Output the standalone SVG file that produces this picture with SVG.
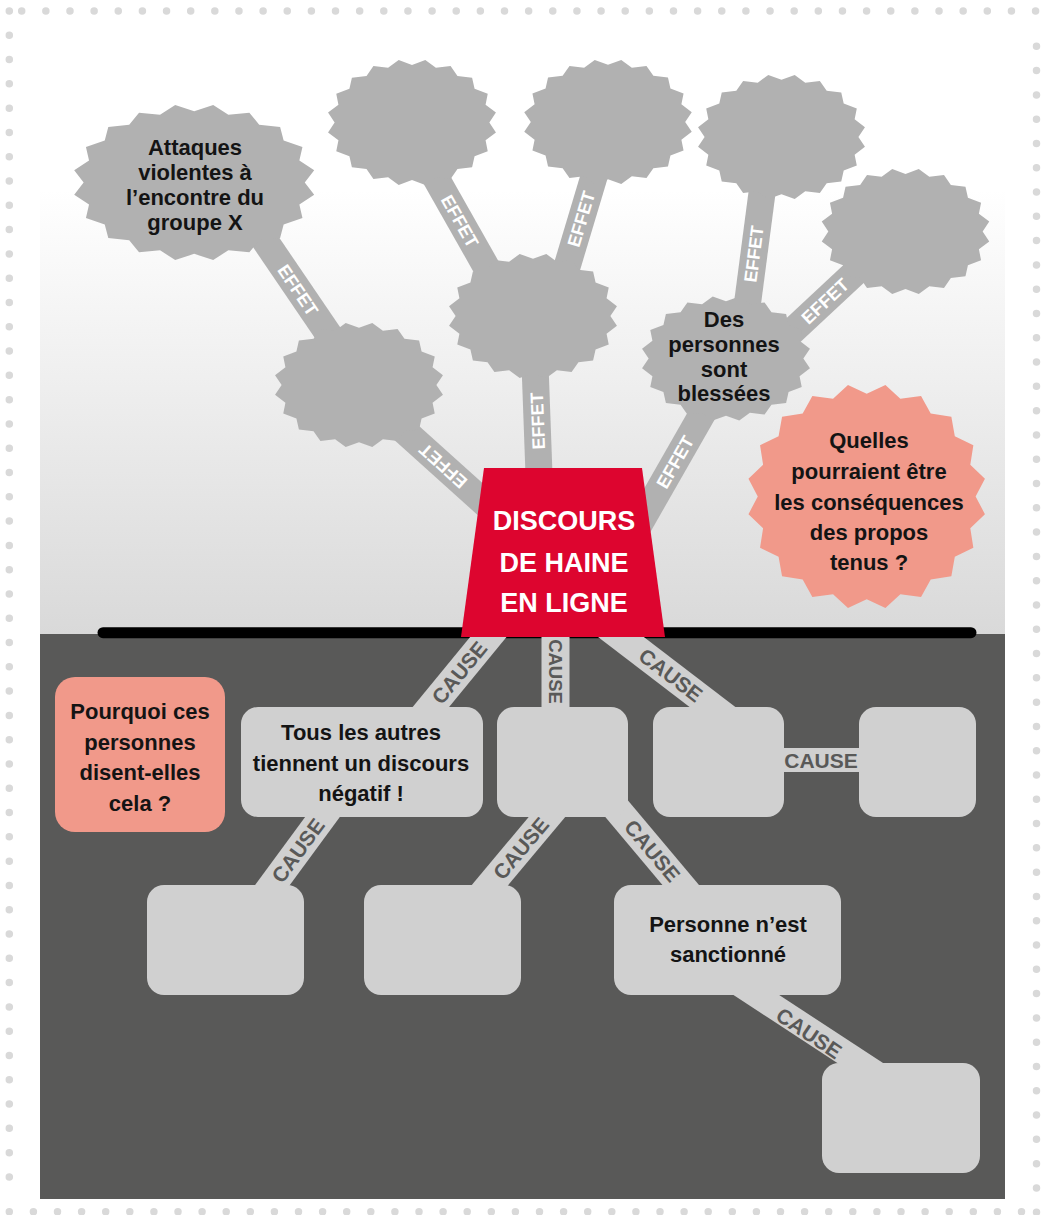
<svg xmlns="http://www.w3.org/2000/svg" width="1044" height="1215" viewBox="0 0 1044 1215">
<style>
.txt{font-family:"Liberation Sans",Arial,sans-serif;font-weight:700;font-size:22px;fill:#141414;text-anchor:middle}
.title{font-family:"Liberation Sans",Arial,sans-serif;font-weight:700;font-size:27px;fill:#ffffff;text-anchor:middle}
.effet{font-family:"Liberation Sans",Arial,sans-serif;font-weight:700;font-size:18px;fill:#ffffff;text-anchor:middle}
.cause{font-family:"Liberation Sans",Arial,sans-serif;font-weight:700;font-size:21px;fill:#595958;text-anchor:middle}
.ebar{stroke:#b1b1b1;stroke-width:27;fill:none}
.cbar{stroke:#d0d0d0;stroke-width:28;fill:none}
.star{fill:#b1b1b1}
.pstar{fill:#f1998a}
.box{fill:#d0d0d0}
.dots{fill:none;stroke:#d9d9d9;stroke-width:7.5;stroke-linecap:round}
</style>
<defs>
<linearGradient id="sky" x1="0" y1="0" x2="0" y2="1">
<stop offset="0" stop-color="#ffffff"/>
<stop offset="1" stop-color="#d9d9d9"/>
</linearGradient>
<path id="star" d="M0,-91 L15.64,-98.77 L28.12,-86.55 L45.40,-89.10 L53.49,-73.62 L70.71,-70.71 L73.62,-53.49 L89.10,-45.40 L86.55,-28.12 L98.77,-15.64 L91,0 L98.77,15.64 L86.55,28.12 L89.10,45.40 L73.62,53.49 L70.71,70.71 L53.49,73.62 L45.40,89.10 L28.12,86.55 L15.64,98.77 L0,91 L-15.64,98.77 L-28.12,86.55 L-45.40,89.10 L-53.49,73.62 L-70.71,70.71 L-73.62,53.49 L-89.10,45.40 L-86.55,28.12 L-98.77,15.64 L-91,0 L-98.77,-15.64 L-86.55,-28.12 L-89.10,-45.40 L-73.62,-53.49 L-70.71,-70.71 L-53.49,-73.62 L-45.40,-89.10 L-28.12,-86.55 L-15.64,-98.77 Z"/>
</defs>

<g id="background">
<rect x="0" y="0" width="1044" height="1215" fill="#ffffff"/>
<rect x="40" y="190" width="965" height="444" fill="url(#sky)"/>
<rect x="40" y="634" width="965" height="565" fill="#595958"/>
<line x1="103" y1="632.7" x2="971" y2="632.7" stroke="#000000" stroke-width="11" stroke-linecap="round"/>
</g>

<g id="border" class="dots">
<line x1="21.7" y1="11" x2="1036" y2="11" stroke-dasharray="0 24.14"/>
<line x1="9.3" y1="11" x2="9.3" y2="1177.5" stroke-dasharray="0 24.29"/>
<line x1="9.3" y1="1211.7" x2="1022" y2="1211.7" stroke-dasharray="0 24.1"/>
<line x1="1036.5" y1="46.3" x2="1036.5" y2="1212.6" stroke-dasharray="0 24.29"/>
</g>

<g id="connectors">
<g id="effet-bars">
<line class="ebar" x1="240" y1="204" x2="355" y2="373"/>
<line class="ebar" x1="420" y1="150" x2="505" y2="300"/>
<line class="ebar" x1="602" y1="150" x2="560" y2="290"/>
<line class="ebar" x1="765" y1="170" x2="744" y2="330"/>
<line class="ebar" x1="770" y1="352" x2="890" y2="240"/>
<line class="ebar" x1="380" y1="409" x2="505" y2="521.5"/>
<line class="ebar" x1="535.2" y1="370" x2="539.2" y2="480"/>
<line class="ebar" x1="720" y1="383" x2="636" y2="530"/>
</g>
<g id="effet-labels">
<text class="effet" transform="translate(298,290) rotate(55.9)" dy="6.5">EFFET</text>
<text class="effet" transform="translate(460,221) rotate(60.5)" dy="6.5">EFFET</text>
<text class="effet" transform="translate(581,219) rotate(-73.3)" dy="6.5">EFFET</text>
<text class="effet" transform="translate(753.6,254) rotate(-82.5)" dy="6.5">EFFET</text>
<text class="effet" transform="translate(825,301) rotate(-43)" dy="6.5">EFFET</text>
<text class="effet" transform="translate(443,466) rotate(-138)" dy="6.5">EFFET</text>
<text class="effet" transform="translate(537.5,421) rotate(-92.2)" dy="6.5">EFFET</text>
<text class="effet" transform="translate(675,462) rotate(-60.2)" dy="6.5">EFFET</text>
</g>
<g id="cause-bars">
<line class="cbar" x1="502.3" y1="620" x2="420.2" y2="720"/>
<line class="cbar" x1="555.5" y1="620" x2="555.5" y2="715"/>
<line class="cbar" x1="598.7" y1="620" x2="736" y2="725"/>
<line class="cbar" x1="331.3" y1="805" x2="263.7" y2="897"/>
<line class="cbar" x1="557" y1="805" x2="480" y2="897"/>
<line class="cbar" x1="613.5" y1="805" x2="690.8" y2="897"/>
<line class="cbar" x1="735" y1="981" x2="878.5" y2="1075" style="stroke-width:25"/>
<line class="cbar" x1="775" y1="760" x2="870" y2="760" style="stroke-width:24"/>
</g>
<g id="cause-labels">
<text class="cause" transform="translate(459.2,672.5) rotate(-50.6)" dy="7.5">CAUSE</text>
<text class="cause" transform="translate(555.5,671.5) rotate(90)" dy="6.7" style="font-size:18.5px">CAUSE</text>
<text class="cause" transform="translate(670.8,675) rotate(37.3)" dy="7.5">CAUSE</text>
<text class="cause" transform="translate(297.9,850.5) rotate(-53.7)" dy="7.5">CAUSE</text>
<text class="cause" transform="translate(520.8,848.3) rotate(-50)" dy="7.5">CAUSE</text>
<text class="cause" transform="translate(652.3,850.8) rotate(50)" dy="7.5">CAUSE</text>
<text class="cause" transform="translate(809,1033) rotate(34)" dy="7.5">CAUSE</text>
<text class="cause" transform="translate(821,760)" dy="7.5">CAUSE</text>
</g>
</g>

<g id="nodes">
<g id="star-attaques">
<use href="#star" class="star" transform="translate(194.2,182.5) scale(1.215,0.784)"/>
<text class="txt" x="195" y="155">Attaques</text>
<text class="txt" x="195" y="180">violentes à</text>
<text class="txt" x="195" y="204.5">l’encontre du</text>
<text class="txt" x="195" y="229.5">groupe X</text>
</g>
<g id="star-b"><use href="#star" class="star" transform="translate(412,122.5) scale(0.85,0.633)"/></g>
<g id="star-c"><use href="#star" class="star" transform="translate(608,122) scale(0.848,0.628)"/></g>
<g id="star-d"><use href="#star" class="star" transform="translate(781.5,137) scale(0.845,0.628)"/></g>
<g id="star-e"><use href="#star" class="star" transform="translate(905.5,231.5) scale(0.848,0.633)"/></g>
<g id="star-f"><use href="#star" class="star" transform="translate(359,385) scale(0.85,0.628)"/></g>
<g id="star-g"><use href="#star" class="star" transform="translate(533,316) scale(0.85,0.628)"/></g>
<g id="star-blessees">
<use href="#star" class="star" transform="translate(726,358.5) scale(0.85,0.628)"/>
<text class="txt" x="724" y="326.7">Des</text>
<text class="txt" x="724" y="351.5">personnes</text>
<text class="txt" x="724" y="376.5">sont</text>
<text class="txt" x="724" y="400.7">blessées</text>
</g>
<g id="star-question">
<use href="#star" class="pstar" transform="translate(866.7,496.5) scale(1.197,1.128)"/>
<text class="txt" x="869" y="448">Quelles</text>
<text class="txt" x="869" y="479">pourraient être</text>
<text class="txt" x="869" y="509.5">les conséquences</text>
<text class="txt" x="869" y="539.5">des propos</text>
<text class="txt" x="869" y="569.5">tenus ?</text>
</g>
<g id="discours">
<polygon points="484,468 642,468 665,637 461,637" fill="#dd052f"/>
<text class="title" x="564" y="530">DISCOURS</text>
<text class="title" x="564" y="571.5">DE HAINE</text>
<text class="title" x="564" y="611.5">EN LIGNE</text>
</g>
<g id="box-question">
<rect x="55" y="677" width="170" height="155" rx="20" fill="#f1998a"/>
<text class="txt" x="140" y="719">Pourquoi ces</text>
<text class="txt" x="140" y="749.5">personnes</text>
<text class="txt" x="140" y="780">disent-elles</text>
<text class="txt" x="140" y="811">cela ?</text>
</g>
<g id="box-autres">
<rect class="box" x="241" y="707" width="242" height="110" rx="17"/>
<text class="txt" x="361" y="739.5">Tous les autres</text>
<text class="txt" x="361" y="770.5">tiennent un discours</text>
<text class="txt" x="361" y="800.5">négatif !</text>
</g>
<g id="box-2"><rect class="box" x="497" y="707" width="131" height="110" rx="17"/></g>
<g id="box-3"><rect class="box" x="653" y="707" width="131" height="110" rx="17"/></g>
<g id="box-4"><rect class="box" x="859" y="707" width="117" height="110" rx="17"/></g>
<g id="box-5"><rect class="box" x="147" y="885" width="157" height="110" rx="17"/></g>
<g id="box-6"><rect class="box" x="364" y="885" width="157" height="110" rx="17"/></g>
<g id="box-sanction">
<rect class="box" x="614" y="885" width="227" height="110" rx="17"/>
<text class="txt" x="728" y="931.7">Personne n’est</text>
<text class="txt" x="728" y="962">sanctionné</text>
</g>
<g id="box-8"><rect class="box" x="822" y="1063" width="158" height="110" rx="17"/></g>
</g>
</svg>
